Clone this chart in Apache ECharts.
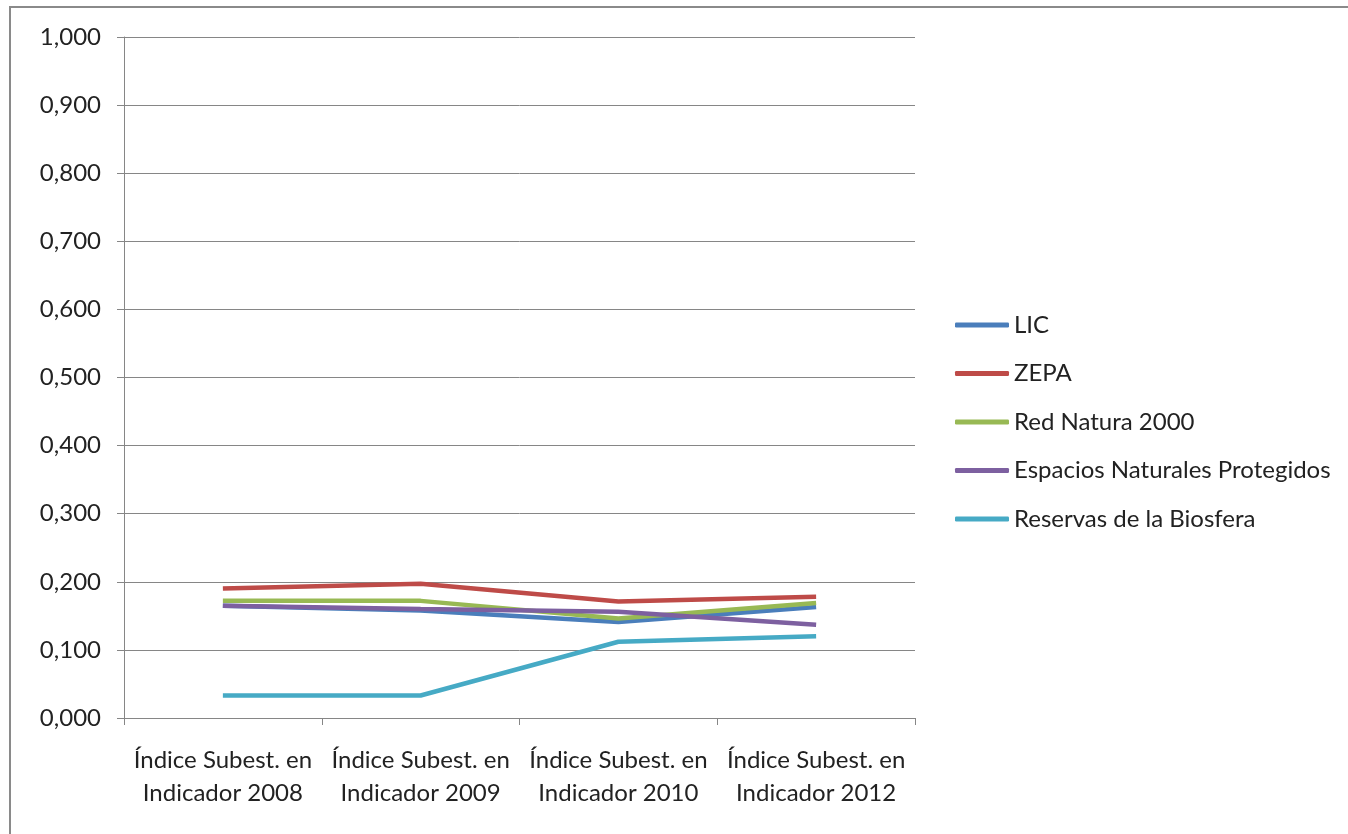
<!DOCTYPE html>
<html>
<head>
<meta charset="utf-8">
<script src="https://cdn.jsdelivr.net/npm/echarts@6/dist/echarts.min.js"></script>
<style>
  html, body { margin: 0; padding: 0; background: #fff; }
  #chart { width: 1348px; height: 834px; }
</style>
</head>
<body>
<div id="chart"></div>
<script>
const categories = [
  'Índice Subest. en\nIndicador 2008',
  'Índice Subest. en\nIndicador 2009',
  'Índice Subest. en\nIndicador 2010',
  'Índice Subest. en\nIndicador 2012'
]
const lic = [0.165, 0.158, 0.141, 0.163]
const zepa = [0.190, 0.197, 0.171, 0.178]
const redNatura = [0.172, 0.172, 0.146, 0.169]
const espacios = [0.165, 0.160, 0.156, 0.137]
const reservas = [0.033, 0.033, 0.112, 0.120]

const font = 'Lato, "Liberation Sans", sans-serif'
const axisGray = '#868686'

const chart = echarts.init(document.getElementById('chart'))

function line(name, data, color) {
  return {
    name,
    type: 'line',
    data,
    symbol: 'none',
    lineStyle: { color, width: 4.5 },
    itemStyle: { color },
    emphasis: { disabled: true }
  }
}

chart.setOption({
  animation: false,
  grid: { left: 124, right: 433, top: 37, bottom: 116 },
  graphic: [{
    type: 'rect',
    shape: { x: 10, y: 7, width: 1400, height: 900 },
    style: { fill: 'none', stroke: '#8a8a8a', lineWidth: 2 },
    silent: true
  }],
  xAxis: {
    type: 'category',
    data: categories,
    boundaryGap: true,
    axisLine: { lineStyle: { color: axisGray } },
    axisTick: { show: true, length: 7, lineStyle: { color: axisGray } },
    axisLabel: {
      fontFamily: font,
      fontSize: 24,
      color: '#222',
      lineHeight: 33,
      margin: 26,
      interval: 0
    }
  },
  yAxis: {
    type: 'value',
    min: 0,
    max: 1,
    interval: 0.1,
    axisLine: { show: true, lineStyle: { color: axisGray } },
    axisTick: { show: true, length: 7, lineStyle: { color: axisGray } },
    splitLine: { lineStyle: { color: axisGray, width: 1 } },
    axisLabel: {
      fontFamily: font,
      fontSize: 24,
      color: '#222',
      margin: 23,
      formatter: v => v.toFixed(3).replace('.', ',')
    }
  },
  legend: {
    orient: 'vertical',
    left: 955,
    top: 313,
    padding: 0,
    itemWidth: 54,
    itemHeight: 5,
    itemGap: 24.5,
    icon: 'roundRect',
    textStyle: { fontFamily: font, fontSize: 24, lineHeight: 24, color: '#222' }
  },
  series: [
    line('LIC', lic, '#4A7EBB'),
    line('ZEPA', zepa, '#BE4B48'),
    line('Red Natura 2000', redNatura, '#98B954'),
    line('Espacios Naturales Protegidos', espacios, '#7D60A0'),
    line('Reservas de la Biosfera', reservas, '#46AAC5')
  ]
})
</script>
</body>
</html>
